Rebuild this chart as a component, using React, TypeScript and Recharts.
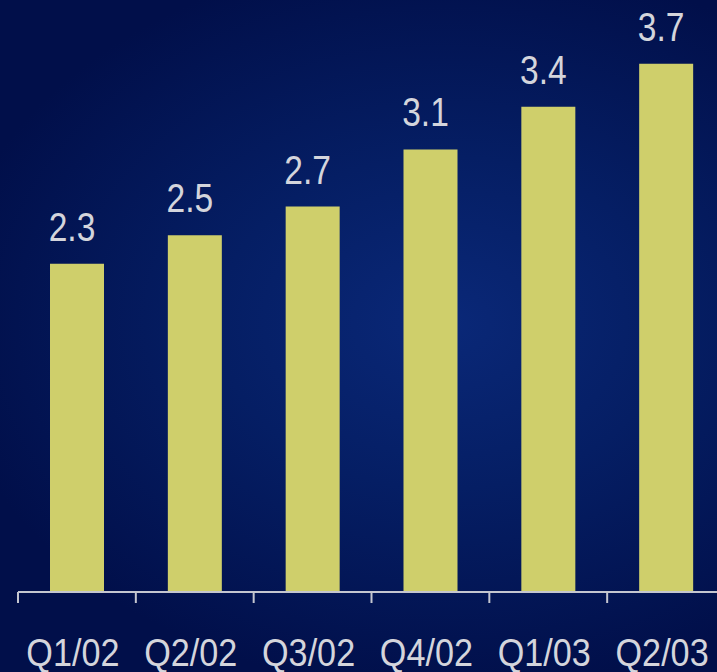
import React from 'react';
import { BarChart, Bar, XAxis, YAxis, LabelList } from 'recharts';

const categories = ['Q1/02', 'Q2/02', 'Q3/02', 'Q4/02', 'Q1/03', 'Q2/03'];
const values = [2.3, 2.5, 2.7, 3.1, 3.4, 3.7];
const data = categories.map((q, i) => ({ q, v: values[i] }));

const FONT = "'Liberation Sans', Arial, sans-serif";
const TEXT = '#d4d5dc';

const EdgeTick = (props: any) => {
  const { x, y, payload } = props;
  const off = payload && payload.offset ? payload.offset : 0;
  return (
    <g>
      <line x1={x - off} x2={x - off} y1={y} y2={y + 11} stroke="#c4c6d0" strokeWidth={2} />
      <g transform={`translate(${x - 4}, ${y + 74}) scale(0.9, 1)`}>
        <text x={0} y={0} textAnchor="middle" fill={TEXT} fontSize={38} fontFamily={FONT}>
          {payload.value}
        </text>
      </g>
    </g>
  );
};

const ValueLabel = (props: any) => {
  const { x, y, width, value } = props;
  const cx = Number(x) + Number(width) / 2 - 5;
  const by = Number(y) - 23;
  return (
    <g transform={`translate(${cx}, ${by}) scale(0.84, 1)`}>
      <text x={0} y={0} textAnchor="middle" fill={TEXT} fontSize={40} fontFamily={FONT}>
        {value}
      </text>
    </g>
  );
};

export default function App() {
  return (
    <div
      style={{
        position: 'absolute',
        left: 0,
        top: 0,
        width: 717,
        height: 672,
        overflow: 'hidden',
        background:
          'radial-gradient(ellipse 70% 55% at 62% 48%, #0a2878 0%, #051e64 45%, #010f4a 100%)',
      }}
    >
      <BarChart
        width={725}
        height={672}
        data={data}
        margin={{ top: 21, right: 0, left: 18, bottom: 0 }}
        barCategoryGap={0}
      >
        <YAxis hide domain={[0, 4]} />
        <XAxis
          dataKey="q"
          height={80}
          axisLine={{ stroke: '#c4c6d0', strokeWidth: 2 }}
          tickLine={false}
          tickSize={0}
          tickMargin={0}
          interval={0}
          tick={<EdgeTick />}
        />
        <Bar dataKey="v" fill="#cfcf6b" barSize={54} isAnimationActive={false}>
          <LabelList dataKey="v" position="top" content={<ValueLabel />} />
        </Bar>
      </BarChart>
    </div>
  );
}
